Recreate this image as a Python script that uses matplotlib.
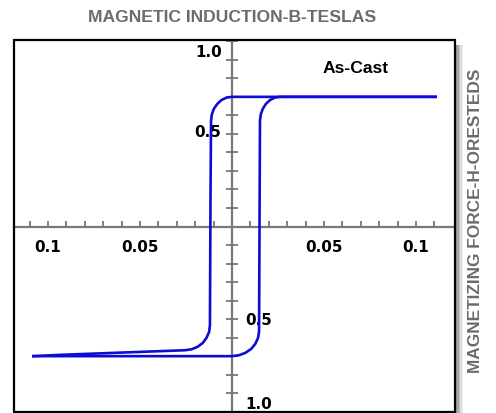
import numpy as np
import matplotlib.pyplot as plt
from matplotlib.patches import Rectangle

# --- hysteresis loop (H in oersteds, B in teslas)

# descending branch, right end -> left end
h_down = [0.1114, 0.0, -0.0029, -0.0057, -0.0080, -0.0099, -0.0110, -0.0114,
          -0.0117, -0.0120, -0.0124, -0.0138, -0.0159, -0.0188, -0.0220,
          -0.0255, -0.0609, -0.0935, -0.1087]
b_down = [0.699, 0.699, 0.695, 0.682, 0.661, 0.634, 0.603, 0.570,
          0.150, -0.532, -0.567, -0.599, -0.628, -0.649, -0.662,
          -0.667, -0.680, -0.692, -0.699]

# ascending branch, left end -> right end
h_up = [-0.1087, 0.0, 0.0038, 0.0073, 0.0104, 0.0127, 0.0142, 0.0147,
        0.0152, 0.0156, 0.0167, 0.0184, 0.0207, 0.0233, 0.0261, 0.1114]
b_up = [-0.699, -0.699, -0.694, -0.681, -0.660, -0.632, -0.599, -0.565,
        0.570, 0.603, 0.634, 0.661, 0.682, 0.695, 0.699, 0.699]

x_ticks = np.round(np.arange(-0.11, 0.111, 0.01), 2)
y_ticks = np.round(np.arange(-1.0, 1.01, 0.1), 1)
x_labels = {-0.1: '0.1', -0.05: '0.05', 0.05: '0.05', 0.1: '0.1'}

blue = '#0c0cd4'
grey = '#777777'

fig = plt.figure(figsize=(4.96, 4.14), dpi=100)
ax = fig.add_axes([14/496, 1/414, 441/496, 372/414])
ax.set_xlim(-0.1185, 0.1212)
ax.set_ylim(-0.9946, 1.0054)

# axes through the origin
for s in ['top', 'right']:
    ax.spines[s].set_visible(False)
ax.spines['left'].set_position('zero')
ax.spines['bottom'].set_position('zero')
for s in ['left', 'bottom']:
    ax.spines[s].set_color(grey)
    ax.spines[s].set_linewidth(1.6)

ax.set_xticks([t for t in x_ticks if t != 0])
ax.set_yticks([t for t in y_ticks if t != 0])
ax.tick_params(axis='x', direction='in', length=4.5, width=1.3, color=grey, labelbottom=False)
ax.tick_params(axis='y', direction='inout', length=8, width=1.3, color=grey, labelleft=False)

# tick labels (no signs, as in the original)
num_font = dict(family='DejaVu Sans', fontweight='bold', fontsize=11, color='black')
for v, s in x_labels.items():
    ax.text(v, -0.1075, s, ha='center', va='center', **num_font)
ax.text(-0.0054, 0.946, '1.0', ha='right', va='center', **num_font)
ax.text(-0.0060, 0.51, '0.5', ha='right', va='center', **num_font)
ax.text(0.0071, -0.50, '0.5', ha='left', va='center', **num_font)
ax.text(0.0071, -0.952, '1.0', ha='left', va='center', **num_font)

ax.plot(h_down, b_down, color=blue, lw=1.9, solid_joinstyle='round', solid_capstyle='butt', zorder=5)
ax.plot(h_up, b_up, color=blue, lw=1.9, solid_joinstyle='round', solid_capstyle='butt', zorder=5)

ax.text(0.0674, 0.855, 'As-Cast', ha='center', va='center', family='Liberation Sans',
        fontweight='bold', fontsize=12.6, color='black')

# frame + drop shadow on the right
for i, c in enumerate(['#8a8a8a', '#a8a8a8', '#c4c4c4', '#dddddd', '#efefef']):
    fig.patches.append(Rectangle((456 + i*1.4, 0), 1.5, 414 - 46, transform=None,
                                 facecolor=c, edgecolor='none', zorder=0))
ax.add_patch(Rectangle((0, 0), 1, 1, transform=ax.transAxes, fill=False,
                       edgecolor='black', lw=1.6, clip_on=False, zorder=6))

fig.text(232/496, 1 - 17/414, 'MAGNETIC INDUCTION-B-TESLAS', ha='center', va='center',
         family='Liberation Sans', fontweight='bold', fontsize=12.6, color='#6b6b6b')
fig.text(475/496, 1 - 221/414, 'MAGNETIZING FORCE-H-ORESTEDS', ha='center', va='center',
         rotation=90, family='Liberation Sans', fontweight='bold', fontsize=12.4, color='#6b6b6b')

fig.savefig('out.png', dpi=100)
